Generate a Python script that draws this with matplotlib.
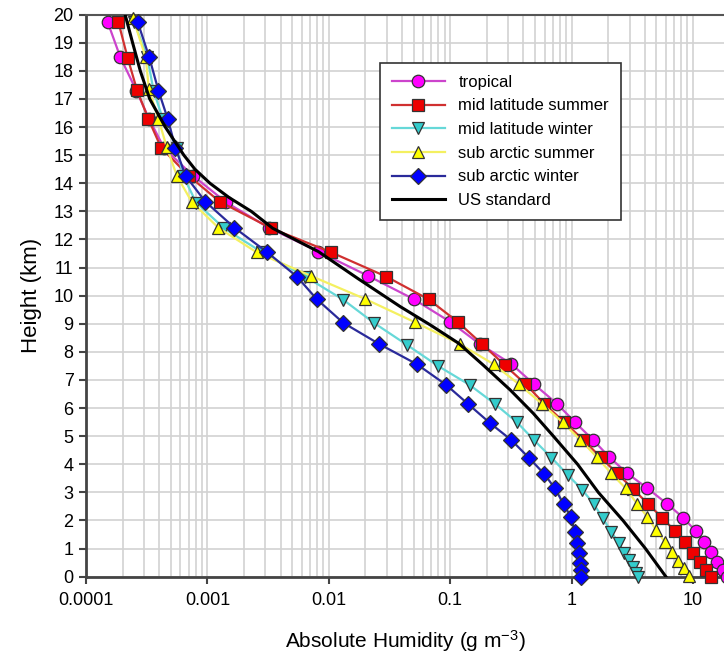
import matplotlib
matplotlib.use("Agg")
import matplotlib.pyplot as plt
from matplotlib.ticker import FixedLocator, LogLocator, NullFormatter

plt.rcParams["font.family"] = ["Liberation Sans", "DejaVu Sans"]
plt.rcParams["mathtext.default"] = "regular"

# absolute humidity profiles (g m-3) against height (km)
tropical_h = [19.73, 18.48, 17.3, 16.3, 15.25, 14.27, 13.32, 12.42, 11.57, 10.70, 9.88, 9.07,
              8.28, 7.57, 6.86, 6.15, 5.49, 4.87, 4.25, 3.68, 3.15, 2.59, 2.10, 1.63, 1.25,
              0.89, 0.53, 0.24, 0.0]
tropical_v = [1.51e-4, 1.92e-4, 2.6e-4, 3.3e-4, 4.4e-4, 7.6e-4, 1.43e-3, 3.2e-3, 8.2e-3, 0.0212,
              0.0499, 0.100, 0.175, 0.319, 0.487, 0.76, 1.07, 1.50, 2.05, 2.87, 4.2, 6.13, 8.3,
              10.5, 12.3, 14.1, 15.8, 17.6, 19.0]

mls_h = [19.73, 18.47, 17.32, 16.28, 15.27, 14.27, 13.35, 12.40, 11.54, 10.68, 9.87, 9.07, 8.28,
         7.53, 6.86, 6.15, 5.49, 4.87, 4.25, 3.68, 3.12, 2.59, 2.10, 1.62, 1.22, 0.86, 0.53,
         0.25, 0.0]
mls_v = [1.85e-4, 2.2e-4, 2.63e-4, 3.27e-4, 4.15e-4, 7.0e-4, 1.26e-3, 3.35e-3, 0.0105, 0.0297,
         0.0664, 0.115, 0.183, 0.281, 0.416, 0.597, 0.873, 1.25, 1.73, 2.37, 3.21, 4.26, 5.57,
         7.11, 8.6, 10.07, 11.5, 12.8, 14.1]

mlw_h = [19.73, 18.48, 17.3, 16.28, 15.27, 14.27, 13.31, 12.40, 11.54, 10.68, 9.85, 9.04, 8.25,
         7.51, 6.82, 6.14, 5.49, 4.87, 4.24, 3.62, 3.10, 2.59, 2.10, 1.60, 1.19, 0.85, 0.59,
         0.36, 0.14, 0.0]
mlw_v = [2.5e-4, 3.2e-4, 3.6e-4, 4.3e-4, 5.6e-4, 6.3e-4, 8.1e-4, 1.37e-3, 2.83e-3, 6.4e-3,
         0.0132, 0.0234, 0.044, 0.0787, 0.145, 0.235, 0.356, 0.488, 0.682, 0.93, 1.22, 1.52,
         1.80, 2.12, 2.45, 2.72, 2.96, 3.21, 3.42, 3.5]

sas_h = [19.9, 18.48, 17.34, 16.29, 15.28, 14.27, 13.35, 12.42, 11.54, 10.70, 9.88, 9.05, 8.28,
         7.56, 6.86, 6.15, 5.49, 4.87, 4.25, 3.68, 3.15, 2.59, 2.14, 1.66, 1.25, 0.89, 0.57,
         0.30, 0.02]
sas_v = [2.43e-4, 3.1e-4, 3.3e-4, 3.95e-4, 4.63e-4, 5.6e-4, 7.4e-4, 1.23e-3, 2.55e-3, 7.16e-3,
         0.020, 0.0515, 0.120, 0.228, 0.366, 0.571, 0.845, 1.18, 1.62, 2.12, 2.78, 3.47, 4.19,
         4.97, 5.83, 6.65, 7.5, 8.4, 9.2]

saw_h = [19.73, 18.48, 17.3, 16.28, 15.27, 14.27, 13.35, 12.42, 11.54, 10.68, 9.87, 9.04, 8.28,
         7.56, 6.82, 6.15, 5.48, 4.86, 4.24, 3.65, 3.15, 2.58, 2.11, 1.60, 1.19, 0.83, 0.50,
         0.24, 0.0]
saw_v = [2.67e-4, 3.32e-4, 3.95e-4, 4.72e-4, 5.45e-4, 6.6e-4, 9.6e-4, 1.67e-3, 3.12e-3, 5.46e-3,
         7.98e-3, 0.0131, 0.026, 0.0532, 0.093, 0.140, 0.211, 0.319, 0.443, 0.597, 0.726, 0.861,
         0.991, 1.06, 1.11, 1.15, 1.18, 1.19, 1.2]

us_h = [20.0, 19.0, 18.0, 17.0, 16.0, 15.0, 14.5, 14.0, 13.5, 13.0, 12.4, 11.57, 10.6, 9.61,
        8.96, 8.31, 7.53, 6.64, 5.81, 5.0, 4.0, 3.0, 2.0, 1.0, 0.0]
us_v = [2.1e-4, 2.42e-4, 2.8e-4, 3.35e-4, 4.5e-4, 6.4e-4, 7.9e-4, 1.05e-3, 1.5e-3, 2.3e-3,
        3.45e-3, 8.2e-3, 0.0175, 0.0388, 0.0685, 0.117, 0.187, 0.313, 0.484, 0.708, 1.12, 1.66,
        2.65, 4.06, 5.98]

x_ticks = [1e-4, 1e-3, 1e-2, 1e-1, 1, 10]
x_tick_labels = ["0.0001", "0.001", "0.01", "0.1", "1", "10"]

fig = plt.figure(figsize=(7.24, 6.56), dpi=100)
ax = fig.add_axes([0.1188, 0.1209, 0.8812, 0.8567])

series = [
    (tropical_v, tropical_h, "tropical", "o", "#CC44CC", "#FF00FF", 9),
    (mls_v, mls_h, "mid latitude summer", "s", "#D03030", "#EE0000", 8.5),
    (mlw_v, mlw_h, "mid latitude winter", "v", "#66D8D8", "#33CCCC", 9),
    (sas_v, sas_h, "sub arctic summer", "^", "#F4F060", "#FFFF00", 9),
    (saw_v, saw_h, "sub arctic winter", "D", "#2A2A9A", "#0000FF", 8),
]
for xs, ys, name, mk, lc, fc, ms in series:
    ax.plot(xs, ys, color=lc, lw=1.6, marker=mk, ms=ms, mfc=fc, mec="#333333",
            mew=0.9, label=name, clip_on=False, zorder=3)
ax.plot(us_v, us_h, color="black", lw=2.2, label="US standard", zorder=4)

ax.set_xscale("log")
ax.set_xlim(1e-4, 18)
ax.set_ylim(0, 20)
ax.xaxis.set_major_locator(FixedLocator(x_ticks))
ax.set_xticklabels(x_tick_labels)
ax.xaxis.set_minor_locator(LogLocator(base=10, subs=range(2, 10)))
ax.xaxis.set_minor_formatter(NullFormatter())
ax.set_yticks(range(0, 21))

ax.grid(True, which="major", color="#D2D2D2", lw=1.2)
ax.grid(True, which="minor", axis="x", color="#D2D2D2", lw=1.2)
ax.set_axisbelow(True)

ax.tick_params(axis="both", which="major", labelsize=13, direction="out", length=5,
               width=1.5, color="#444444", pad=4)
ax.tick_params(axis="x", which="minor", length=0)
ax.tick_params(axis="x", which="major", pad=6)

for s in ["left", "bottom"]:
    ax.spines[s].set_color("#444444")
    ax.spines[s].set_linewidth(2)
ax.spines["top"].set_color("#555555")
ax.spines["top"].set_linewidth(1.5)
ax.spines["right"].set_visible(False)

ax.set_ylabel("Height (km)", fontsize=16, labelpad=8)
ax.set_xlabel("Absolute Humidity (g m$^{-3}$)", fontsize=15, labelpad=14)

leg = ax.legend(loc="upper left", bbox_to_anchor=(0.461, 0.914), borderaxespad=0,
                fontsize=12, frameon=True, fancybox=False, edgecolor="#333333",
                framealpha=1, handlelength=3.2, labelspacing=0.52, borderpad=0.7)
leg.get_frame().set_linewidth(1.2)

fig.savefig("out.png", dpi=100)
